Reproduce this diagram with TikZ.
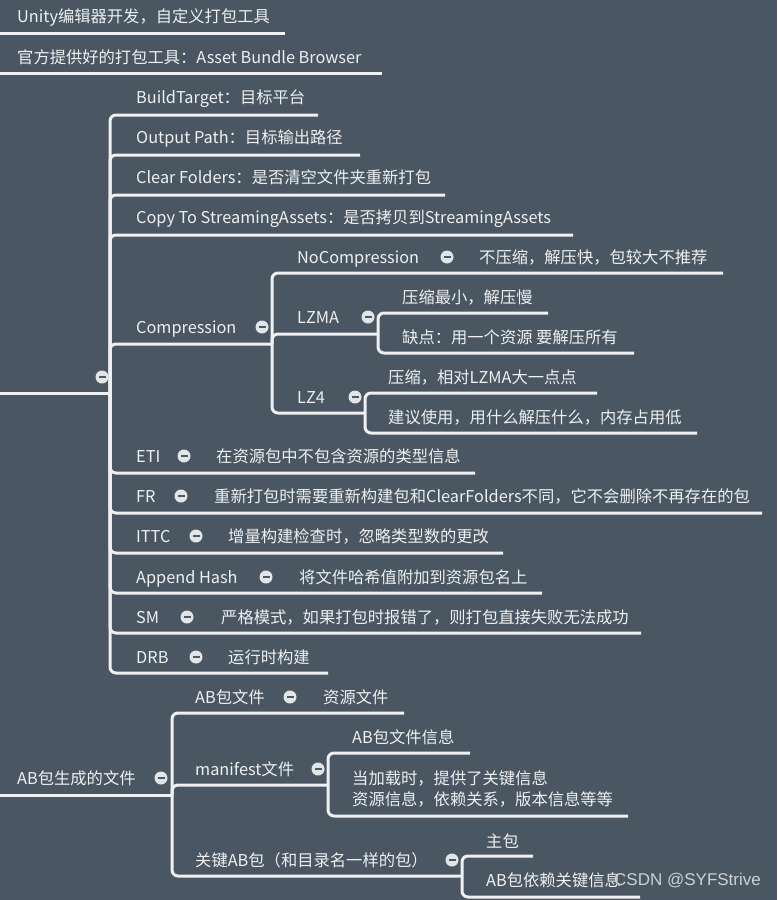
\documentclass[tikz,border=0pt]{standalone}
\usepackage{fontspec}
\setmainfont{Noto Sans CJK SC}
\newfontfamily\wmfont{Liberation Sans}
\definecolor{bg}{RGB}{74,86,98}
\definecolor{fg}{RGB}{238,240,242}
\definecolor{ballc}{RGB}{226,229,232}
\definecolor{minusc}{RGB}{78,88,100}
\definecolor{wmc}{RGB}{205,208,212}
\begin{document}
\begin{tikzpicture}[x=1pt,y=-1pt,
  lbl/.style={anchor=west,inner sep=0pt,text=fg,text height=14pt,text depth=2pt,font=\fontsize{16.3}{19}\selectfont},
  ln/.style={draw=fg,line width=3pt,rounded corners=6pt},
  coll/.style={circle,fill=ballc,minimum size=13pt,inner sep=0pt,
    path picture={\draw[minusc,line width=1.8pt] ([xshift=-3.5pt]path picture bounding box.center) -- ([xshift=3.5pt]path picture bounding box.center);}},
]
\fill[bg] (0,0) rectangle (777,900);
\useasboundingbox (0,0) rectangle (777,900);

% ---------- top-level items ----------
\node[lbl] (t1) at (17,16) {Unity编辑器开发，自定义打包工具};
\node[lbl] (t2) at (17,57) {官方提供好的打包工具：Asset Bundle Browser};
\coordinate (r1) at (0,33);
\coordinate (r2) at (0,73);
\draw[ln] (r1) -- (285,33);
\draw[ln] (r2) -- (382,73);

% ---------- settings group ----------
\coordinate (r3) at (0,393);
\coordinate (j3) at (110,393);
\draw[ln] (r3) -- (j3);
\node[coll] (c3) at (102,377) {};

\node[lbl] (bt) at (136,97) {BuildTarget：目标平台};
\node[lbl] (op) at (136,137) {Output Path：目标输出路径};
\node[lbl] (cf) at (136,177) {Clear Folders：是否清空文件夹重新打包};
\node[lbl] (cs) at (136,217) {Copy To StreamingAssets：是否拷贝到StreamingAssets};
\draw[ln] (j3) |- (318,115);
\draw[ln] (j3) |- (360,155);
\draw[ln] (j3) |- (445,195);
\draw[ln] (j3) |- (573,235);

% Compression
\node[lbl] (comp) at (136,327) {Compression};
\node[coll] (ccomp) at (262,327) {};
\coordinate (jc) at (272,344);
\draw[ln] (j3) |- (jc);

\node[lbl] (nc) at (297,257) {NoCompression};
\node[coll] (cnc) at (447,257) {};
\node[lbl] (ncd) at (479,257) {不压缩，解压快，包较大不推荐};
\draw[ln] (jc) |- (723,273);

\node[lbl] (lzma) at (297,317) {LZMA};
\node[coll] (clzma) at (368,317) {};
\coordinate (jl) at (378,334);
\draw[ln] (jc) |- (jl);
\node[lbl] (lz1) at (402,297) {压缩最小，解压慢};
\node[lbl] (lz2) at (402,337) {缺点：用一个资源 要解压所有};
\draw[ln] (jl) |- (548,313);
\draw[ln] (jl) |- (634,353);

\node[lbl] (lz4) at (297,397) {LZ4};
\node[coll] (clz4) at (355,397) {};
\coordinate (j4) at (365,413);
\draw[ln] (jc) |- (j4);
\node[lbl] (l41) at (388,377) {压缩，相对LZMA大一点点};
\node[lbl] (l42) at (388,417) {建议使用，用什么解压什么，内存占用低};
\draw[ln] (j4) |- (597,393);
\draw[ln] (j4) |- (697,433);

% flags
\node[lbl] (eti) at (136,456) {ETI};
\node[coll] (ceti) at (184,456) {};
\node[lbl] (etid) at (216,456) {在资源包中不包含资源的类型信息};
\draw[ln] (j3) |- (475,473);

\node[lbl] (fr) at (136,496) {FR};
\node[coll] (cfr) at (181,496) {};
\node[lbl] (frd) at (214,496) {重新打包时需要重新构建包和ClearFolders不同，它不会删除不再存在的包};
\draw[ln] (j3) |- (762,513);

\node[lbl] (ittc) at (136,536) {ITTC};
\node[coll] (cittc) at (196,536) {};
\node[lbl] (ittcd) at (228,536) {增量构建检查时，忽略类型数的更改};
\draw[ln] (j3) |- (503,553);

\node[lbl] (ah) at (136,577) {Append Hash};
\node[coll] (cah) at (266,577) {};
\node[lbl] (ahd) at (299,577) {将文件哈希值附加到资源包名上};
\draw[ln] (j3) |- (542,593);

\node[lbl] (sm) at (136,617) {SM};
\node[coll] (csm) at (187,617) {};
\node[lbl] (smd) at (221,617) {严格模式，如果打包时报错了，则打包直接失败无法成功};
\draw[ln] (j3) |- (641,633);

\node[lbl] (drb) at (136,657) {DRB};
\node[coll] (cdrb) at (196,657) {};
\node[lbl] (drbd) at (228,657) {运行时构建};
\draw[ln] (j3) |- (328,673);

% ---------- AB files group ----------
\node[lbl] (ab) at (17,778) {AB包生成的文件};
\node[coll] (cab) at (161,778) {};
\coordinate (r4) at (0,795);
\coordinate (ja) at (172,795);
\draw[ln] (r4) -- (ja);

\node[lbl] (abf) at (195,697) {AB包文件};
\node[coll] (cabf) at (290,697) {};
\node[lbl] (abfd) at (323,697) {资源文件};
\draw[ln] (ja) |- (404,713);

\node[lbl] (mf) at (195,769) {manifest文件};
\node[coll] (cmf) at (318,769) {};
\coordinate (jm) at (328,785);
\draw[ln] (ja) |- (jm);
\node[lbl] (mf1) at (352,737) {AB包文件信息};
\node[lbl] (mf2) at (352,778) {当加载时，提供了关键信息};
\node[lbl] (mf2b) at (352,799) {资源信息，依赖关系，版本信息等等};
\draw[ln] (jm) |- (470,753);
\draw[ln] (jm) |- (628,816);

\node[lbl] (key) at (195,860) {关键AB包（和目录名一样的包）};
\node[coll] (ckey) at (452,860) {};
\coordinate (jk) at (462,876);
\draw[ln] (ja) |- (jk);
\node[lbl] (k1) at (486,841) {主包};
\node[lbl] (k2) at (486,880) {AB包依赖关键信息};
\draw[ln] (jk) |- (533,856);
\draw[ln] (jk) |- (640,897);

% watermark
\node[anchor=west,inner sep=0pt,text=wmc,font=\wmfont\fontsize{17}{20}\selectfont] (wm) at (614,881) {CSDN @SYFStrive};
\end{tikzpicture}
\end{document}
